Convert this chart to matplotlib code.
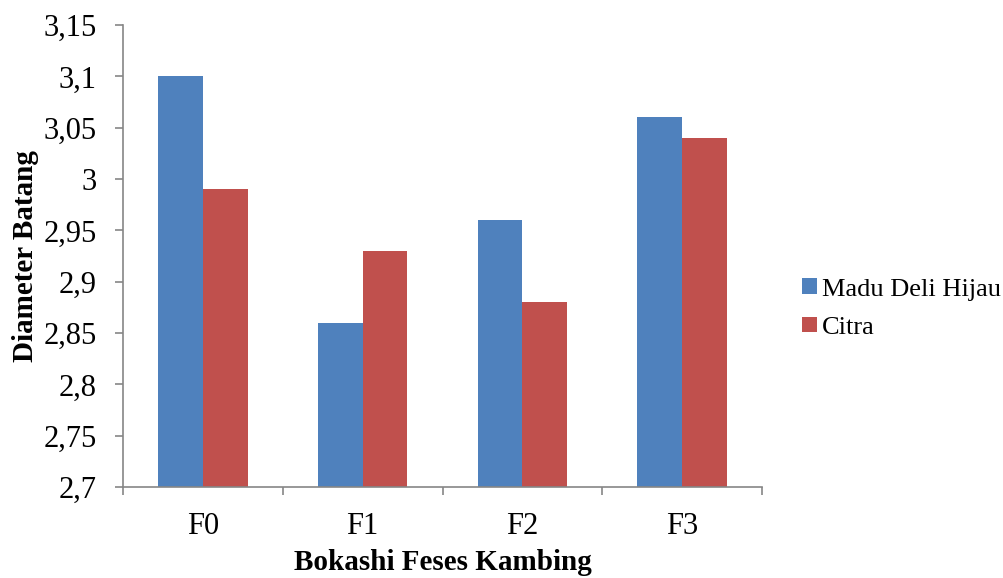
import matplotlib
matplotlib.use("Agg")
import matplotlib.pyplot as plt
import numpy as np

categories = ["F0", "F1", "F2", "F3"]
madu_deli_hijau = [3.10, 2.86, 2.96, 3.06]
citra = [2.99, 2.93, 2.88, 3.04]
y_ticks = [2.7, 2.75, 2.8, 2.85, 2.9, 2.95, 3.0, 3.05, 3.1, 3.15]
y_tick_labels = ["2,7", "2,75", "2,8", "2,85", "2,9", "2,95", "3", "3,05", "3,1", "3,15"]

plt.rcParams["font.family"] = ["Liberation Serif", "DejaVu Serif"]

fig = plt.figure(figsize=(10.04, 5.78), dpi=100)
ax = fig.add_axes([0.1225, 0.1574, 0.6365, 0.7993])

x = np.arange(len(categories))
w = 0.28
base = 2.7
ax.bar(x - w / 2, np.array(madu_deli_hijau) - base, w, bottom=base,
       color="#4F81BD", label="Madu Deli Hijau")
ax.bar(x + w / 2, np.array(citra) - base, w, bottom=base,
       color="#C0504D", label="Citra")

ax.set_xlim(-0.5, len(categories) - 0.5)
ax.set_ylim(2.7, 3.15)
ax.set_yticks(y_ticks)
ax.set_yticklabels(y_tick_labels, fontsize=22)

# category labels centred, tick marks on the group boundaries
ax.set_xticks(x)
ax.set_xticklabels(categories, fontsize=22)
ax.tick_params(axis="x", which="major", length=0, pad=18)
ax.set_xticks(np.arange(-0.5, len(categories), 1.0), minor=True)
ax.tick_params(axis="x", which="minor", length=6, width=1.2, color="#868686", direction="out")
ax.tick_params(axis="y", length=6, width=1.2, color="#868686", direction="out", pad=13)

for side in ("top", "right"):
    ax.spines[side].set_visible(False)
for side in ("left", "bottom"):
    ax.spines[side].set_color("#868686")
    ax.spines[side].set_linewidth(1.2)

ax.set_xlabel("Bokashi Feses Kambing", fontsize=21, fontweight="bold", labelpad=6)
ax.set_ylabel("Diameter Batang", fontsize=21, fontweight="bold", labelpad=3)

fig.legend(*ax.get_legend_handles_labels(), loc="center left",
           bbox_to_anchor=(0.799, 0.466), frameon=False,
           fontsize=19, handlelength=0.55, handleheight=0.55, handletextpad=0.2,
           labelspacing=0.6, borderpad=0.0, borderaxespad=0.0)

fig.savefig("out.png", dpi=100)
